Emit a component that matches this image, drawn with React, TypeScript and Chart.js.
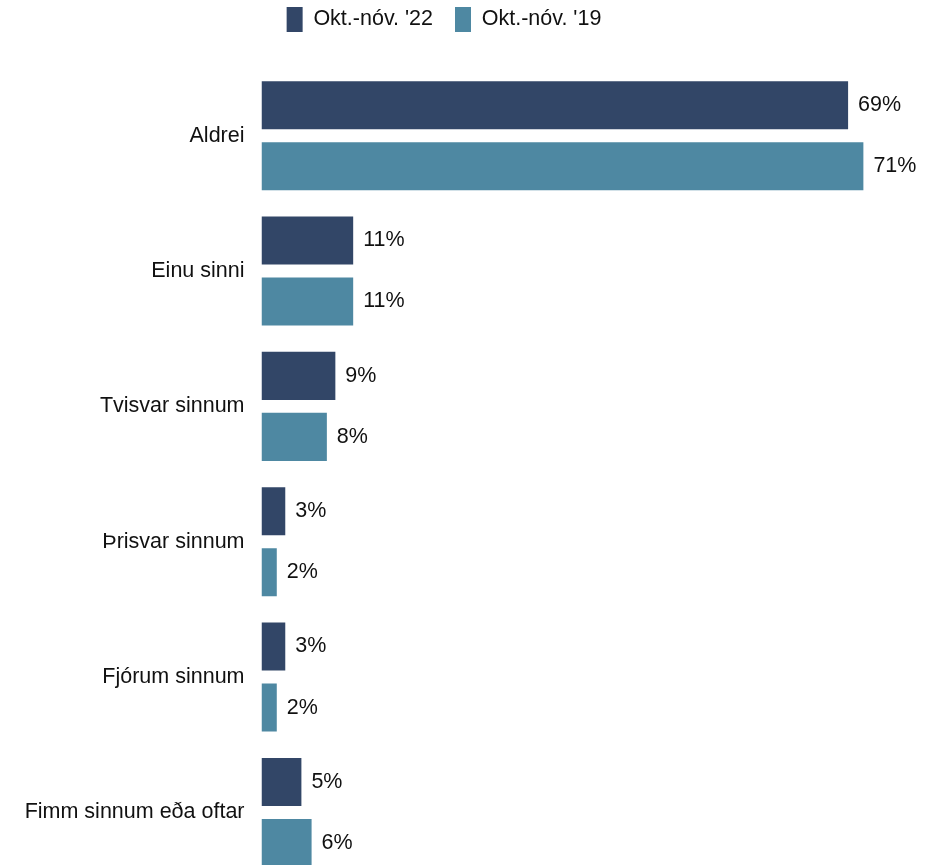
import React, { useEffect, useRef } from "react";
import { Chart, registerables } from "chart.js";

Chart.register(...registerables);

const categories = [
  "Aldrei",
  "Einu sinni",
  "Tvisvar sinnum",
  "Þrisvar sinnum",
  "Fjórum sinnum",
  "Fimm sinnum eða oftar",
];
const seriesNames = ["Okt.-nóv. '22", "Okt.-nóv. '19"];
const values22 = [69.1, 10.8, 8.7, 2.8, 2.8, 4.7];
const values19 = [70.9, 10.8, 7.7, 1.8, 1.8, 5.9];
const colors = ["#324667", "#4E88A2"];

const FONT = "'Liberation Sans', Arial, sans-serif";
const FS = 21.5;

const valueLabels = {
  id: "valueLabels",
  afterDatasetsDraw(chart: any) {
    const ctx = chart.ctx;
    ctx.save();
    ctx.font = `${FS}px ${FONT}`;
    ctx.fillStyle = "#111";
    ctx.textAlign = "left";
    ctx.textBaseline = "middle";
    chart.data.datasets.forEach((ds: any, i: number) => {
      const meta = chart.getDatasetMeta(i);
      meta.data.forEach((bar: any, j: number) => {
        const v = ds.data[j];
        ctx.fillText(Math.round(v) + "%", bar.x + 10, bar.y);
      });
    });
    ctx.restore();
  },
};

const legendHeight = {
  id: "legendHeight",
  beforeInit(chart: any) {
    const orig = chart.legend.fit;
    chart.legend.fit = function () {
      orig.call(this);
      this.height = 83;
    };
  },
};

export default function App() {
  const ref = useRef<HTMLCanvasElement>(null);
  useEffect(() => {
    if (!ref.current) return;
    const chart = new Chart(ref.current, {
      type: "bar",
      data: {
        labels: categories,
        datasets: [
          {
            label: seriesNames[0],
            data: values22,
            backgroundColor: colors[0],
            categoryPercentage: 0.9017,
            barPercentage: 0.787,
          },
          {
            label: seriesNames[1],
            data: values19,
            backgroundColor: colors[1],
            categoryPercentage: 0.9017,
            barPercentage: 0.787,
          },
        ],
      },
      options: {
        indexAxis: "y",
        animation: false,
        responsive: true,
        maintainAspectRatio: false,
        layout: { padding: { top: -15, left: 0, right: 38, bottom: 20 } },
        plugins: {
          legend: {
            position: "top",
            labels: {
              boxWidth: 16,
              boxHeight: 25,
              padding: 22,
              color: "#111",
              font: { size: FS, family: FONT },
            },
          },
          tooltip: { enabled: false },
        },
        scales: {
          x: {
            display: false,
            min: 0,
            max: 73.8,
            grid: { display: false },
          },
          y: {
            grid: { display: false, drawTicks: false },
            border: { display: false },
            ticks: {
              color: "#111",
              padding: 17,
              font: { size: FS, family: FONT },
            },
            afterFit(scale: any) {
              scale.width = 261.5;
            },
          },
        },
      },
      plugins: [valueLabels, legendHeight],
    });
    return () => chart.destroy();
  }, []);
  return (
    <div
      style={{
        position: "fixed",
        left: 0,
        top: 0,
        width: 926,
        height: 865,
        overflow: "hidden",
        background: "#fff",
      }}
    >
      <div style={{ position: "relative", width: 926, height: 910 }}>
        <canvas ref={ref} />
      </div>
    </div>
  );
}
